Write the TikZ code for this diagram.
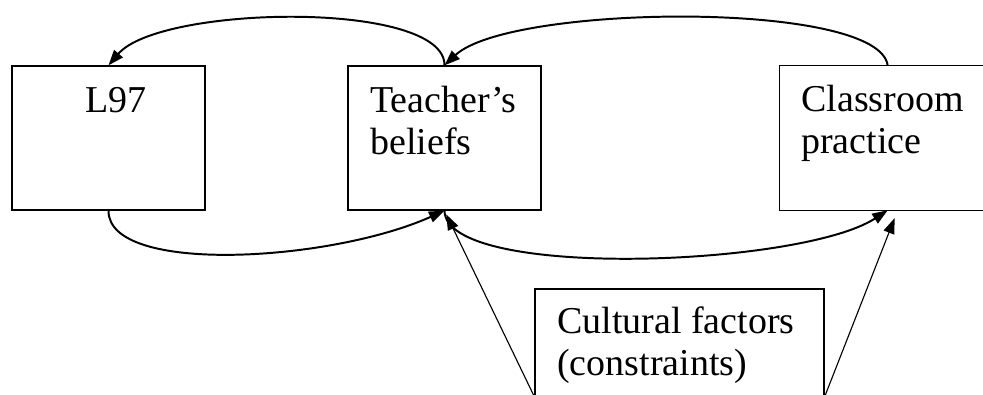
\documentclass[tikz,border=0pt]{standalone}
\usepackage{fontspec}
\setmainfont{Liberation Serif}
\usetikzlibrary{arrows.meta,calc}

\begin{document}
\begin{tikzpicture}[x = .025cm, y = -.025cm,
    box/.style = {draw, line width = .9pt, inner sep = 0pt},
    lbl/.style = {font = \fontsize{27}{29.8}\selectfont, inner sep = 0pt, align = left, anchor = base west},
    loop/.style = {->, line width = 1.4pt},
    push/.style = {->, line width = .8pt},
    >={Triangle[length = 11pt, width = 8pt]}]
    \useasboundingbox (0,0) rectangle (983,394);
    \clip (0,0) rectangle (983,394);
    \node[box, minimum width = 4.825cm, minimum height = 3.6cm] (l97) at (108.5,138) {};
    \node[box, minimum width = 4.825cm, minimum height = 3.6cm] (belief) at (444.5,138) {};
    \node[inner sep = 0pt, minimum width = 7.5cm, minimum height = 3.6cm] (practice) at (930,138) {};
    \node[box, minimum width = 7.225cm, minimum height = 2.675cm] (culture) at (679.5,342.5) {};
    % practice box runs off the right edge
    \draw[line width = .9pt] (practice.north east) -- (practice.north west) -- (practice.south west) -- (practice.south east);
    % last line baselines
    \node[lbl] (l97txt) at (85,112) {L97};
    \node[lbl] (belieftxt) at (370,154) {Teacher’s\\beliefs};
    \node[lbl] (practicetxt) at (801,153) {Classroom\\practice};
    \node[lbl] (culturetxt) at (557,375) {Cultural factors\\(constraints)};
    \coordinate (ptop) at ($(practice.north west)+(108,0)$);
    \coordinate (pbot) at ($(practice.south west)+(108,0)$);
    \draw[loop] (belief.north) .. controls (445,0) and (160,5) .. (l97.north);
    \draw[loop] (ptop) .. controls (880,0) and (510,4) .. (belief.north);
    \draw[loop] (l97.south) .. controls (108,275) and (330,262) .. (belief.south);
    \draw[loop] (belief.south) .. controls (445,280) and (800,267) .. (pbot);
    \draw[push, shorten >= 3pt] (culture.south west) -- (belief.south);
    \draw[push, shorten >= 6pt] (culture.south east) -- ($(pbot)+(10,0)$);
\end{tikzpicture}
\end{document}
